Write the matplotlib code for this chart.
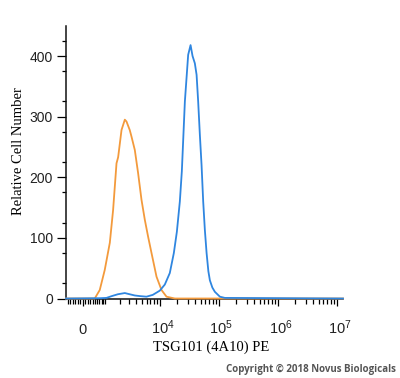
import numpy as np
import matplotlib
matplotlib.use("Agg")
import matplotlib.pyplot as plt
from matplotlib.ticker import FixedLocator, NullFormatter

# histogram (fluorescence, cell count)
iso_x = [-700, 486, 714, 968, 1266, 1483, 1734, 1865, 2162, 2488, 2666, 3050, 3280,
         3750, 4280, 4900, 5590, 6370, 7290, 8870, 10790, 13130, 18200, 1.287e7]
iso_y = [0, 0, 14, 47, 92, 146, 223, 233, 278, 295, 292, 278, 267,
         245, 207, 163, 130, 102, 75, 36, 14, 3, 0, 0]

tsg_x = [-700, 714, 1064, 1395, 1840, 2488, 3050, 3750, 4580, 5970, 7660, 10100,
         12280, 14930, 17480, 19670, 22100, 23900, 26900, 30600, 33600, 36300,
         39700, 42500, 45200, 48300, 51600, 55000, 58700, 62800, 67300, 71400,
         78700, 86800, 105500, 128000, 1.287e7]
tsg_y = [0, 0.5, 1, 4, 7, 9, 7, 5, 4, 3, 6, 13,
         23, 42, 75, 110, 160, 210, 325, 402, 418, 400,
         388, 369, 325, 270, 220, 160, 113, 75, 45, 30,
         18, 11, 3, 1, 0]

major_x = [0, 1e4, 1e5, 1e6, 1e7]
major_lbl = ["$0$", r"$\;\,10^{4}$", r"$\;\,10^{5}$", r"$\;\,10^{6}$", r"$\;\,10^{7}$"]
minor_x = ([-100 * k for k in range(1, 7)] + [100 * k for k in range(1, 10)]
           + [m * 10 ** e for e in (3, 4, 5, 6) for m in range(2, 10)] + [1000])

plt.rcParams['mathtext.default'] = 'regular'
plt.rcParams['font.family'] = ['Liberation Sans', 'DejaVu Sans']

fig = plt.figure(figsize=(4, 3.78), dpi=100)
ax = fig.add_axes([0.165, 0.2103, 0.6925, 0.7217])

ax.plot(iso_x, iso_y, color='#f39a3c', lw=1.3, zorder=3, clip_on=False)
ax.plot(tsg_x, tsg_y, color='#2f86e0', lw=1.3, zorder=4, clip_on=False)

ax.set_xscale('asinh', linear_width=1000)
ax.set_xlim(-700, 1.287e7)
ax.set_ylim(0, 450)

ax.xaxis.set_major_locator(FixedLocator(major_x))
ax.xaxis.set_minor_locator(FixedLocator(minor_x))
ax.xaxis.set_minor_formatter(NullFormatter())
ax.set_xticklabels(major_lbl, va='baseline')
ax.set_yticks([0, 100, 200, 300, 400])
ax.yaxis.set_minor_locator(FixedLocator(np.arange(25, 451, 50)))

for s in ['top', 'right']:
    ax.spines[s].set_visible(False)
for s in ['left', 'bottom']:
    ax.spines[s].set_linewidth(1.1)
    ax.spines[s].set_color('#111111')

ax.tick_params(axis='y', which='major', length=6.5, width=0.9, pad=3,
               labelsize=10, labelcolor='#222222')
ax.tick_params(axis='y', which='minor', length=3.2, width=0.9)
ax.tick_params(axis='x', which='major', length=5, width=0.9, pad=20.5,
               labelsize=10.5, labelcolor='#222222')
ax.tick_params(axis='x', which='minor', length=3.6, width=0.9)

ax.set_xlabel("TSG101 (4A10) PE", family='Liberation Serif', fontsize=10.5,
              va='center')
ax.xaxis.set_label_coords(0.525, -0.177)
ax.set_ylabel("Relative Cell Number", family='Liberation Serif', fontsize=10.5,
              va='center')
ax.yaxis.set_label_coords(-0.173, 0.539)

fig.text(0.99, 0.022, "Copyright © 2018 Novus Biologicals", ha='right',
         va='center', fontsize=7.0, color='#555555', weight='bold',
         family='Open Sans')

fig.savefig("out.png", dpi=100)
